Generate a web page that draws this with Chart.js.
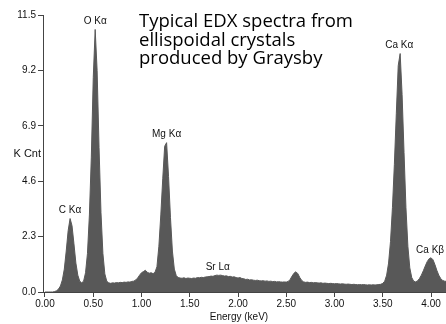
<!DOCTYPE html>
<html>
<head>
<meta charset="utf-8">
<script src="https://cdn.jsdelivr.net/npm/chart.js@4.4.1/dist/chart.umd.min.js"></script>
<style>
  html, body { margin: 0; padding: 0; background: #fff; }
  #wrap { width: 446px; height: 324px; position: relative; }
</style>
</head>
<body>
<div id="wrap"><canvas id="edx"></canvas></div>
<script>
// spectrum channels: 0.02 keV wide, starting at 0 keV
const channelStart = 0;
const channelWidth = 0.02;
const kCounts = [
  0, 0, 0, 0, 0, 0.02, 0.05, 0.12, 0.25, 0.5,
  0.95, 1.7, 2.55, 3.05, 2.75, 2.0, 1.2, 0.7, 0.45, 0.38,
  0.45, 0.8, 1.6, 3.2, 5.6, 8.9, 10.9, 9.2, 6.0, 3.3,
  1.6, 0.75, 0.45, 0.38, 0.36, 0.38, 0.37, 0.39, 0.38, 0.4,
  0.39, 0.41, 0.4, 0.42, 0.41, 0.44, 0.45, 0.5, 0.58, 0.7,
  0.8, 0.85, 0.9, 0.82, 0.78, 0.8, 0.76, 0.82, 1.05, 1.9,
  3.2, 4.7, 6.05, 6.2, 4.8, 3.1, 1.7, 0.95, 0.68, 0.6,
  0.58, 0.57, 0.59, 0.56, 0.58, 0.57, 0.56, 0.58, 0.57, 0.6,
  0.59, 0.61, 0.6, 0.62, 0.63, 0.64, 0.66, 0.65, 0.68, 0.7,
  0.69, 0.7, 0.68, 0.66, 0.67, 0.64, 0.65, 0.62, 0.63, 0.6,
  0.58, 0.6, 0.56, 0.55, 0.52, 0.53, 0.5, 0.51, 0.49, 0.48,
  0.49, 0.47, 0.46, 0.47, 0.45, 0.46, 0.44, 0.45, 0.43, 0.44,
  0.42, 0.43, 0.42, 0.41, 0.42, 0.41, 0.44, 0.52, 0.66, 0.78,
  0.84, 0.76, 0.6, 0.48, 0.42, 0.4, 0.41, 0.39, 0.4, 0.38,
  0.39, 0.38, 0.37, 0.38, 0.36, 0.37, 0.36, 0.35, 0.36, 0.35,
  0.34, 0.35, 0.34, 0.33, 0.34, 0.33, 0.32, 0.33, 0.32, 0.31,
  0.32, 0.31, 0.3, 0.31, 0.3, 0.31, 0.3, 0.29, 0.3, 0.29,
  0.3, 0.29, 0.3, 0.31, 0.32, 0.36, 0.45, 0.7, 1.2, 2.1,
  3.5, 5.3, 7.4, 9.4, 9.9, 8.2, 5.8, 3.5, 1.9, 1.0,
  0.6, 0.45, 0.42, 0.46, 0.56, 0.7, 0.88, 1.08, 1.26, 1.38,
  1.42, 1.34, 1.14, 0.9, 0.7, 0.56, 0.48, 0.45, 0.44
];

const xTickValues = [0, 0.5, 1, 1.5, 2, 2.5, 3, 3.5, 4];
const yTickValues = [0, 2.3, 4.6, 6.9, 9.2, 11.5];

// peak annotations (name, energy in keV, height in K counts)
const peakNames = ['C K\u03b1', 'O K\u03b1', 'Mg K\u03b1', 'Sr L\u03b1', 'Ca K\u03b1', 'Ca K\u03b2'];
const peakEnergy = [0.26, 0.52, 1.26, 1.79, 3.67, 3.99];
const peakHeight = [3.05, 10.9, 6.2, 0.68, 9.9, 1.42];

const titleLines = ['Typical EDX spectra from', 'ellispoidal crystals', 'produced by Graysby'];

const spectrum = kCounts.map((c, i) => ({ x: channelStart + i * channelWidth, y: c }));

const textPlugin = {
  id: 'edxText',
  afterDraw(chart) {
    const ctx = chart.ctx;
    const xs = chart.scales.x;
    const ys = chart.scales.y;
    ctx.save();
    ctx.fillStyle = '#111';
    ctx.textBaseline = 'middle';

    // peak labels
    ctx.font = '10px "Liberation Sans", Arial, sans-serif';
    ctx.textAlign = 'center';
    peakNames.forEach((name, i) => {
      const px = xs.getPixelForValue(peakEnergy[i]);
      const py = ys.getPixelForValue(peakHeight[i]) - 8;
      ctx.fillText(name, px, py);
    });

    // axis titles
    ctx.fillText('Energy (keV)', 239, 317);
    ctx.textAlign = 'right';
    ctx.font = '11px "Liberation Sans", Arial, sans-serif';
    ctx.fillText('K Cnt', 41, 154);

    // heading
    ctx.textAlign = 'left';
    ctx.fillStyle = '#000';
    ctx.font = '18.5px "Open Sans", sans-serif';
    titleLines.forEach((line, i) => {
      ctx.fillText(line, 139, 22 + i * 18.5);
    });
    ctx.restore();
  }
};

new Chart(document.getElementById('edx'), {
  type: 'line',
  data: {
    datasets: [{
      data: spectrum,
      borderColor: '#585858',
      borderWidth: 1,
      backgroundColor: '#585858',
      fill: 'origin',
      pointRadius: 0,
      tension: 0
    }]
  },
  options: {
    responsive: true,
    maintainAspectRatio: false,
    animation: false,
    layout: { padding: { top: 15, left: 0, right: 0, bottom: 0 } },
    plugins: {
      legend: { display: false },
      tooltip: { enabled: false }
    },
    scales: {
      x: {
        type: 'linear',
        min: -0.0207,
        max: 4.155,
        afterBuildTicks: (axis) => { axis.ticks = xTickValues.map(v => ({ value: v })); },
        afterFit: (scale) => { scale.height = 32; },
        ticks: {
          callback: (v) => v.toFixed(2),
          color: '#111',
          font: { family: '"Liberation Sans", Arial, sans-serif', size: 10 },
          maxRotation: 0,
          autoSkip: false,
          padding: 1
        },
        grid: { drawOnChartArea: false, tickLength: 5, color: '#444' },
        border: { color: '#444' }
      },
      y: {
        min: 0,
        max: 11.5,
        afterBuildTicks: (axis) => { axis.ticks = yTickValues.map(v => ({ value: v })); },
        afterFit: (scale) => { scale.width = 43; },
        ticks: {
          callback: (v) => v.toFixed(1),
          color: '#111',
          font: { family: '"Liberation Sans", Arial, sans-serif', size: 10 },
          padding: 2
        },
        grid: { drawOnChartArea: false, tickLength: 5, color: '#444' },
        border: { color: '#444' }
      }
    }
  },
  plugins: [textPlugin]
});
</script>
</body>
</html>
